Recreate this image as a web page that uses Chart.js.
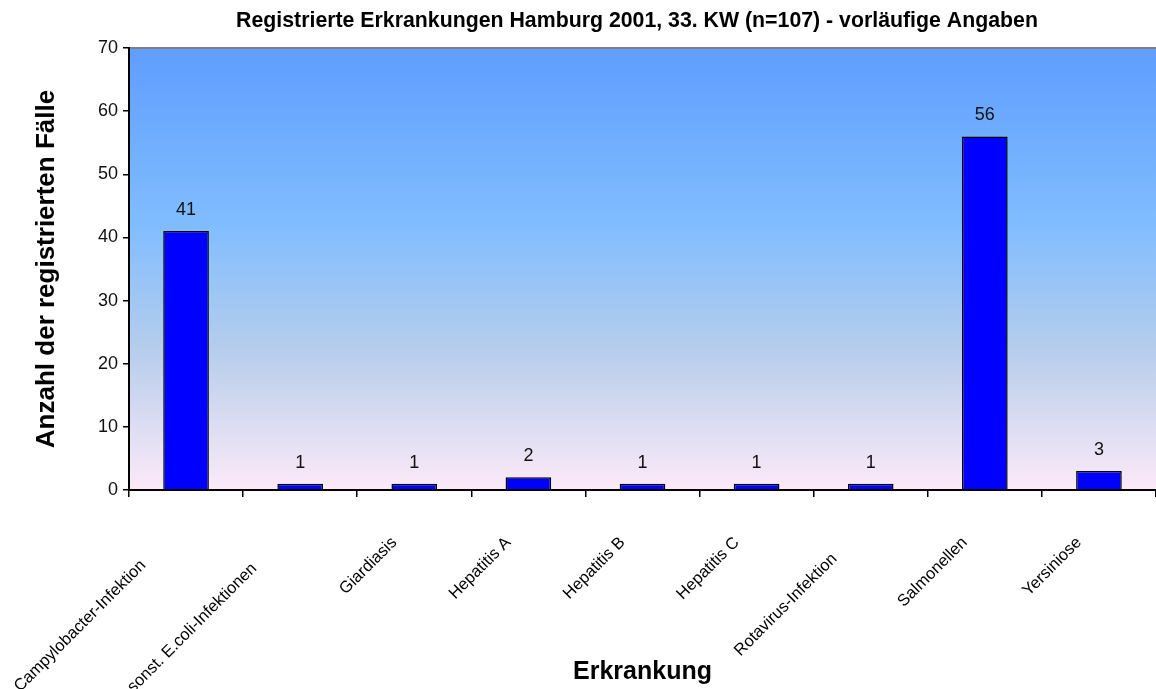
<!DOCTYPE html>
<html>
<head>
<meta charset="utf-8">
<script src="https://cdn.jsdelivr.net/npm/chart.js@4/dist/chart.umd.min.js"></script>
<style>
  html, body { margin: 0; padding: 0; background: #fff; }
  #chart { display: block; }
</style>
</head>
<body>
<canvas id="chart" width="1156" height="689"></canvas>
<script>
const categories = [
  "Campylobacter-Infektion",
  "sonst. E.coli-Infektionen",
  "Giardiasis",
  "Hepatitis A",
  "Hepatitis B",
  "Hepatitis C",
  "Rotavirus-Infektion",
  "Salmonellen",
  "Yersiniose",
];
const cases = [41, 1, 1, 2, 1, 1, 1, 56, 3];
const yTicks = [0, 10, 20, 30, 40, 50, 60, 70];

const chartTitle = "Registrierte Erkrankungen Hamburg 2001, 33. KW (n=107) - vorläufige Angaben";
const yTitle = "Anzahl der registrierten Fälle";
const xTitle = "Erkrankung";

const FONT = "Arial, 'Liberation Sans', sans-serif";

// gradient behind the plot + grey line on top + the chart title
const plotBackground = {
  id: "plotBackground",
  beforeDraw(chart) {
    const { ctx, chartArea: a } = chart;
    const g = ctx.createLinearGradient(0, a.top, 0, a.bottom);
    g.addColorStop(0, "rgb(95,157,255)");
    g.addColorStop(0.4, "rgb(128,189,255)");
    g.addColorStop(0.68, "rgb(182,205,236)");
    g.addColorStop(1, "rgb(252,234,248)");
    ctx.save();
    ctx.fillStyle = g;
    ctx.fillRect(a.left, a.top, a.right - a.left, a.bottom - a.top);
    ctx.strokeStyle = "#7f7f7f";
    ctx.lineWidth = 2;
    ctx.beginPath();
    ctx.moveTo(a.left, a.top);
    ctx.lineTo(a.right, a.top);
    ctx.stroke();
    ctx.fillStyle = "#000";
    ctx.font = `bold 21.3px ${FONT}`;
    ctx.textAlign = "center";
    ctx.textBaseline = "middle";
    ctx.fillText(chartTitle, 637, 21);
    ctx.restore();
  },
};

// numbers above the bars
const valueLabels = {
  id: "valueLabels",
  afterDatasetsDraw(chart) {
    const { ctx } = chart;
    const meta = chart.getDatasetMeta(0);
    ctx.save();
    ctx.fillStyle = "#111";
    ctx.font = `18px ${FONT}`;
    ctx.textAlign = "center";
    ctx.textBaseline = "bottom";
    meta.data.forEach((bar, i) => {
      ctx.fillText(String(cases[i]), bar.x, bar.y - 12);
    });
    ctx.restore();
  },
};

new Chart(document.getElementById("chart"), {
  type: "bar",
  data: {
    labels: categories,
    datasets: [
      {
        data: cases,
        backgroundColor: "#0000ff",
        borderColor: "#000",
        borderWidth: 1.5,
        barPercentage: 0.4,
        categoryPercentage: 1,
      },
    ],
  },
  options: {
    responsive: false,
    animation: false,
    layout: { padding: { top: 48, left: 0, right: 0, bottom: 0 } },
    plugins: {
      legend: { display: false },
      tooltip: { enabled: false },
    },
    scales: {
      x: {
        offset: true,
        border: { display: true, color: "#000", width: 2 },
        grid: {
          offset: true,
          drawOnChartArea: false,
          drawTicks: true,
          tickLength: 7,
          color: "#000",
          lineWidth: 1.5,
        },
        ticks: {
          autoSkip: false,
          minRotation: 45,
          maxRotation: 45,
          labelOffset: -20,
          padding: 36,
          color: "#000",
          font: { family: FONT, size: 16.5 },
          // longer names sit a bit further down-left, as in the original
          callback: (value, i) => {
            const name = categories[i];
            const pad = Math.max(0, Math.round((name.length - 12) * 0.65));
            return name + " ".repeat(pad);
          },
        },
        title: {
          display: true,
          text: xTitle,
          color: "#000",
          font: { family: FONT, size: 25, weight: "bold" },
          padding: { top: 0, bottom: 2 },
        },
        afterFit: (scale) => {
          scale.height = 199;
          scale.paddingLeft = 0;
          scale.paddingRight = 0;
        },
      },
      y: {
        min: 0,
        max: 70,
        border: { display: true, color: "#000", width: 2 },
        grid: {
          drawOnChartArea: false,
          drawTicks: true,
          tickLength: 6,
          color: "#000",
          lineWidth: 1.5,
        },
        afterBuildTicks: (scale) => {
          scale.ticks = yTicks.map((v) => ({ value: v }));
        },
        ticks: {
          padding: 5,
          color: "#111",
          font: { family: FONT, size: 18 },
        },
        title: {
          display: true,
          text: yTitle,
          color: "#000",
          font: { family: FONT, size: 26, weight: "bold" },
          padding: { top: 31, bottom: 0 },
        },
        afterFit: (scale) => { scale.width = 129; },
      },
    },
  },
  plugins: [plotBackground, valueLabels],
});
</script>
</body>
</html>
